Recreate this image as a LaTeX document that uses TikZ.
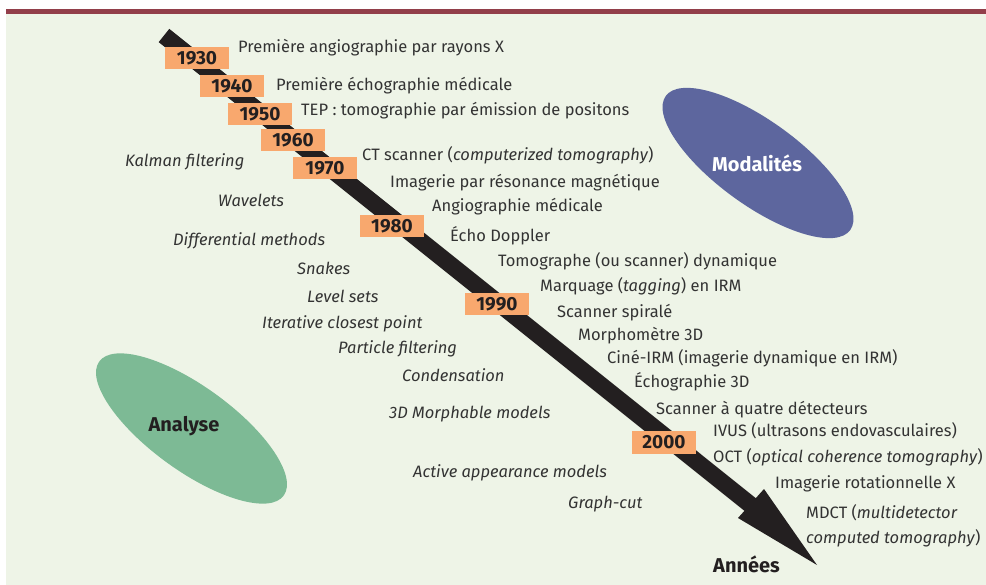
\documentclass[tikz,border=0pt]{standalone}
\usepackage{fontspec}
\setmainfont{Fira Sans}

\definecolor{pagebg}{HTML}{EEF4E7}
\definecolor{topbar}{HTML}{923F4A}
\definecolor{yearorange}{HTML}{F8A86E}
\definecolor{arrowblack}{HTML}{231F20}
\definecolor{textgray}{HTML}{333333}
\definecolor{modblue}{HTML}{5D669E}
\definecolor{anagreen}{HTML}{7DBA95}

\newcommand{\evsize}{\fontsize{16.5}{19}\selectfont}
\newcommand{\yrsize}{\fontsize{19}{21}\selectfont}

\tikzset{
  year/.style={fill=yearorange, minimum width=64pt, minimum height=22pt,
               inner sep=0pt, text=arrowblack, font=\yrsize\bfseries},
  event/.style={anchor=base west, inner sep=0pt, text=textgray, font=\evsize},
  method/.style={anchor=base west, inner sep=0pt, text=textgray, font=\evsize\itshape},
  blob/.style={inner sep=0pt, font=\fontsize{20}{23}\selectfont\bfseries}
}

\begin{document}
\begin{tikzpicture}[x=1pt, y=-1pt]
        \useasboundingbox (0,0) rectangle (986,585);
        \fill [white]      (0,0) rectangle (986,585);                 %
        \fill [pagebg]     (6,9) rectangle (986,585);                 %
        \fill [topbar]     (6,9) rectangle (986,14);                  %

        % ellipses
        \fill [modblue, rotate around={-36:(758,163)}]    (758,163) ellipse [x radius=114, y radius=42];
        \fill [anagreen, rotate around={-36:(191.5,428.5)}] (191.5,428.5) ellipse [x radius=114, y radius=42];
        \node [blob, text=white]      (modal) at (757,163) {Modalités};
        \node [blob, text=arrowblack] (analy) at (184,426) {Analyse};

        % time axis
        \coordinate (t0)  at (164,35.5);                              % tail
        \coordinate (t1)  at (752,506);                               % shaft end, under the head
        \coordinate (hl)  at (764,489);                               % head corner, upper
        \coordinate (hr)  at (738,518);                               % head corner, lower
        \coordinate (tip) at (817,565);                               %
        \draw [arrowblack, line width=17pt] (t0) -- (t1);
        \fill [arrowblack] (hl) -- (tip) -- (hr) -- cycle;
        \node [blob, text=arrowblack, anchor=base west] (annees) at (713,572) {Années};

        % years
        \node [year] (y1930) at (197,58)    {1930};
        \node [year] (y1940) at (232,86)    {1940};
        \node [year] (y1950) at (260,114)   {1950};
        \node [year] (y1960) at (293,140)   {1960};
        \node [year] (y1970) at (325,168)   {1970};
        \node [year] (y1980) at (392,226.5) {1980};
        \node [year] (y1990) at (497,304)   {1990};
        \node [year] (y2000) at (664,442.5) {2000};

        % imaging modalities
        \node [event] (m01) at (238,53)  {Première angiographie par rayons X};
        \node [event] (m02) at (276,91)  {Première échographie médicale};
        \node [event] (m03) at (301,116) {TEP : tomographie par émission de positons};
        \node [event] (m04) at (362,161) {CT scanner (\textit{computerized tomography})};
        \node [event] (m05) at (390,188) {Imagerie par résonance magnétique};
        \node [event] (m06) at (432,212) {Angiographie médicale};
        \node [event] (m07) at (450,242) {Écho Doppler};
        \node [event] (m08) at (498,267) {Tomographe (ou scanner) dynamique};
        \node [event] (m09) at (540,292) {Marquage (\textit{tagging}) en IRM};
        \node [event] (m10) at (557,318) {Scanner spiralé};
        \node [event] (m11) at (578,341) {Morphomètre 3D};
        \node [event] (m12) at (607,364) {Ciné-IRM (imagerie dynamique en IRM)};
        \node [event] (m13) at (634,388) {Échographie 3D};
        \node [event] (m14) at (656,414) {Scanner à quatre détecteurs};
        \node [event] (m15) at (713,436) {IVUS (ultrasons endovasculaires)};
        \node [event] (m16) at (713,462) {OCT (\textit{optical coherence tomography})};
        \node [event] (m17) at (775,488) {Imagerie rotationnelle X};
        \node [event] (m18) at (806,518) {MDCT (\textit{multidetector}};
        \node [event] (m19) at (806,543) {\textit{computed tomography})};

        % analysis methods
        \node [method] (a01) at (125,167) {Kalman filtering};
        \node [method] (a02) at (218,207) {Wavelets};
        \node [method] (a03) at (173,246) {Differential methods};
        \node [method] (a04) at (297,275) {Snakes};
        \node [method] (a05) at (307,303) {Level sets};
        \node [method] (a06) at (262,329) {Iterative closest point};
        \node [method] (a07) at (338,354) {Particle filtering};
        \node [method] (a08) at (402,382) {Condensation};
        \node [method] (a09) at (389,418) {3D Morphable models};
        \node [method] (a10) at (413,477) {Active appearance models};
        \node [method] (a11) at (568,508) {Graph-cut};
\end{tikzpicture}
\end{document}
